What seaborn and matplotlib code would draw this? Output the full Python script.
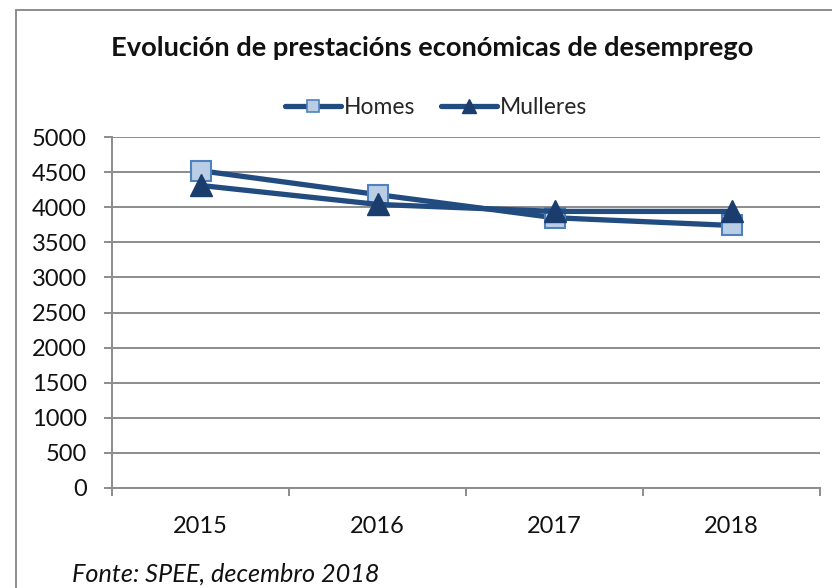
import matplotlib
matplotlib.use("Agg")
import matplotlib.pyplot as plt
from matplotlib.patches import Rectangle
from matplotlib.lines import Line2D
import pandas as pd
import seaborn as sns

# Data: economic unemployment benefits by sex
years = ["2015", "2016", "2017", "2018"]
homes = [4520, 4180, 3850, 3740]
mulleres = [4310, 4040, 3940, 3940]
y_ticks = [0, 500, 1000, 1500, 2000, 2500, 3000, 3500, 4000, 4500, 5000]

sns.set_theme(style="white")
plt.rcParams["font.family"] = ["Lato", "DejaVu Sans"]

line_color = "#224C80"
sq_face, sq_edge = "#B9CDE5", "#4F81BD"
tri_face = "#1B3D6D"
grid_color = "#8C8C8C"

df = pd.DataFrame({
    "ano": years * 2,
    "valor": homes + mulleres,
    "serie": ["Homes"] * len(years) + ["Mulleres"] * len(years),
})

fig = plt.figure(figsize=(8.32, 5.88), dpi=100)
ax = fig.add_axes([112 / 832, 1 - 488 / 588, (820 - 112) / 832, (488 - 137) / 588])

sns.lineplot(data=df[df.serie == "Homes"], x="ano", y="valor", ax=ax,
             color=line_color, linewidth=3.8, marker="s", markersize=15,
             markerfacecolor=sq_face, markeredgecolor=sq_edge, markeredgewidth=1.5,
             legend=False, zorder=3)
sns.lineplot(data=df[df.serie == "Mulleres"], x="ano", y="valor", ax=ax,
             color=line_color, linewidth=3.8, marker="^", markersize=16,
             markerfacecolor=tri_face, markeredgecolor=tri_face, markeredgewidth=1,
             legend=False, zorder=4)

ax.set_xlim(-0.5, len(years) - 0.5)
ax.set_ylim(0, 5000)
ax.set_yticks(y_ticks)
ax.yaxis.grid(True, color=grid_color, linewidth=1.4)
ax.set_axisbelow(True)
ax.set_xlabel("")
ax.set_ylabel("")

for s in ["top", "right"]:
    ax.spines[s].set_visible(False)
for s in ["left", "bottom"]:
    ax.spines[s].set_color(grid_color)
    ax.spines[s].set_linewidth(1.4)

ax.set_xticks(range(len(years)))
ax.set_xticklabels(years)
ax.set_xticks([i - 0.5 for i in range(len(years) + 1)], minor=True)
ax.tick_params(axis="x", which="major", length=0, pad=20, labelsize=17, labelcolor="#111111")
ax.tick_params(axis="x", which="minor", length=6, width=1.4, color=grid_color, direction="out", bottom=True)
ax.tick_params(axis="y", which="major", length=6, width=1.4, color=grid_color, direction="out",
               left=True, pad=12, labelsize=17, labelcolor="#111111")

fig.text(432 / 832, 1 - 48 / 588, "Evolución de prestacións económicas de desemprego",
         ha="center", va="center", fontsize=19.6, fontweight="bold", color="#111111")

handles = [
    Line2D([], [], color=line_color, linewidth=3.8, marker="s", markersize=9,
           markerfacecolor=sq_face, markeredgecolor=sq_edge, markeredgewidth=1.2,
           solid_capstyle="round"),
    Line2D([], [], color=line_color, linewidth=3.8, marker="^", markersize=10,
           markerfacecolor=tri_face, markeredgecolor=tri_face, solid_capstyle="round"),
]
fig.legend(handles, ["Homes", "Mulleres"], loc="center", bbox_to_anchor=(436 / 832, 1 - 108 / 588),
           ncol=2, frameon=False, fontsize=16.5, handlelength=2.45, handletextpad=0.13,
           columnspacing=1.1)

fig.text(72 / 832, 1 - 574 / 588, "Fonte: SPEE, decembro 2018", ha="left", va="center",
         fontsize=18.2, fontstyle="italic", color="#111111")

# chart frame
fig.patches.append(Rectangle((16 / 832, -0.1), 1.2, 1 - 10 / 588 + 0.1, transform=fig.transFigure,
                             fill=False, edgecolor="#8C8C8C", linewidth=1.4))

fig.savefig("out.png", dpi=100)
